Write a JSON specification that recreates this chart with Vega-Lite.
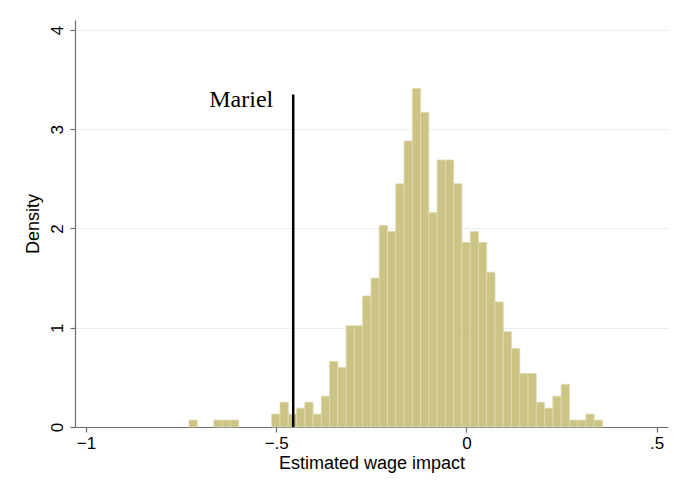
{
  "$schema": "https://vega.github.io/schema/vega-lite/v6.json",
  "width": 593,
  "height": 407,
  "autosize": {"type": "none"},
  "padding": {"left": 75, "top": 20, "right": 10, "bottom": 67},
  "background": "white",
  "config": {
    "view": {"stroke": null},
    "axis": {
      "labelFont": "Liberation Sans",
      "titleFont": "Liberation Sans",
      "labelFontSize": 17,
      "titleFontSize": 18,
      "titleFontWeight": "normal",
      "labelColor": "black",
      "titleColor": "black",
      "domainColor": "#6b6b6b",
      "tickColor": "#6b6b6b",
      "tickSize": 5,
      "domainWidth": 1.2,
      "tickWidth": 1.2
    }
  },
  "datasets": {
    "bars": [
      {"x0": -0.7292, "x1": -0.7075, "density": 0.07},
      {"x0": -0.6640, "x1": -0.6422, "density": 0.07},
      {"x0": -0.6422, "x1": -0.6205, "density": 0.07},
      {"x0": -0.6205, "x1": -0.5988, "density": 0.07},
      {"x0": -0.5118, "x1": -0.4901, "density": 0.13},
      {"x0": -0.4901, "x1": -0.4683, "density": 0.25},
      {"x0": -0.4683, "x1": -0.4466, "density": 0.13},
      {"x0": -0.4466, "x1": -0.4248, "density": 0.19},
      {"x0": -0.4248, "x1": -0.4031, "density": 0.25},
      {"x0": -0.4031, "x1": -0.3814, "density": 0.13},
      {"x0": -0.3814, "x1": -0.3596, "density": 0.31},
      {"x0": -0.3596, "x1": -0.3379, "density": 0.66},
      {"x0": -0.3379, "x1": -0.3161, "density": 0.60},
      {"x0": -0.3161, "x1": -0.2944, "density": 1.02},
      {"x0": -0.2944, "x1": -0.2727, "density": 1.02},
      {"x0": -0.2727, "x1": -0.2509, "density": 1.32},
      {"x0": -0.2509, "x1": -0.2292, "density": 1.50},
      {"x0": -0.2292, "x1": -0.2074, "density": 2.03},
      {"x0": -0.2074, "x1": -0.1857, "density": 1.97},
      {"x0": -0.1857, "x1": -0.1640, "density": 2.45},
      {"x0": -0.1640, "x1": -0.1422, "density": 2.88},
      {"x0": -0.1422, "x1": -0.1205, "density": 3.41},
      {"x0": -0.1205, "x1": -0.0987, "density": 3.17},
      {"x0": -0.0987, "x1": -0.0770, "density": 2.16},
      {"x0": -0.0770, "x1": -0.0553, "density": 2.69},
      {"x0": -0.0553, "x1": -0.0335, "density": 2.69},
      {"x0": -0.0335, "x1": -0.0118, "density": 2.45},
      {"x0": -0.0118, "x1": 0.0100, "density": 1.86},
      {"x0": 0.0100, "x1": 0.0317, "density": 1.97},
      {"x0": 0.0317, "x1": 0.0534, "density": 1.86},
      {"x0": 0.0534, "x1": 0.0752, "density": 1.56},
      {"x0": 0.0752, "x1": 0.0969, "density": 1.26},
      {"x0": 0.0969, "x1": 0.1186, "density": 0.96},
      {"x0": 0.1186, "x1": 0.1404, "density": 0.79},
      {"x0": 0.1404, "x1": 0.1621, "density": 0.54},
      {"x0": 0.1621, "x1": 0.1839, "density": 0.54},
      {"x0": 0.1839, "x1": 0.2056, "density": 0.25},
      {"x0": 0.2056, "x1": 0.2273, "density": 0.19},
      {"x0": 0.2273, "x1": 0.2491, "density": 0.31},
      {"x0": 0.2491, "x1": 0.2708, "density": 0.43},
      {"x0": 0.2708, "x1": 0.2925, "density": 0.07},
      {"x0": 0.2925, "x1": 0.3143, "density": 0.07},
      {"x0": 0.3143, "x1": 0.3360, "density": 0.13},
      {"x0": 0.3360, "x1": 0.3578, "density": 0.07}
    ],
    "mariel": [
      {"label": "Mariel", "x": -0.4553, "y0": 0, "y1": 3.35, "ytext": 3.22}
    ]
  },
  "layer": [
    {
      "data": {"name": "bars"},
      "mark": {"type": "bar", "fill": "#cbc485", "stroke": "#e0dbae", "strokeWidth": 0.8},
      "encoding": {
        "x": {
          "field": "x0", "type": "quantitative",
          "scale": {"domain": [-1.029, 0.53], "nice": false, "zero": false},
          "axis": {
            "title": "Estimated wage impact",
            "values": [-1, -0.5, 0, 0.5],
            "labelExpr": "datum.value == 0 ? '0' : replace(format(datum.value, '.1~f'), '0.', '.')",
            "grid": false,
            "labelPadding": 3,
            "titlePadding": 3,
            "labelFlush": false
          }
        },
        "x2": {"field": "x1"},
        "y": {
          "field": "density", "type": "quantitative",
          "scale": {"domain": [0, 4.1], "nice": false},
          "axis": {
            "title": "Density",
            "values": [0, 1, 2, 3, 4],
            "format": "d",
            "grid": true,
            "gridColor": "#e6eff2",
            "gridWidth": 1.2,
            "labelAngle": -90,
            "labelAlign": "center",
            "labelBaseline": "bottom",
            "labelPadding": 4,
            "titlePadding": 6,
            "labelFlush": false
          }
        },
        "y2": {"datum": 0}
      }
    },
    {
      "data": {"name": "mariel"},
      "mark": {"type": "rule", "color": "black", "strokeWidth": 2.5},
      "encoding": {
        "x": {"field": "x", "type": "quantitative"},
        "y": {"field": "y0", "type": "quantitative"},
        "y2": {"field": "y1"}
      }
    },
    {
      "data": {"name": "mariel"},
      "mark": {"type": "text", "font": "Liberation Serif", "fontSize": 24, "align": "right", "baseline": "alphabetic", "dx": -20, "color": "black"},
      "encoding": {
        "x": {"field": "x", "type": "quantitative"},
        "y": {"field": "ytext", "type": "quantitative"},
        "text": {"field": "label"}
      }
    }
  ]
}
